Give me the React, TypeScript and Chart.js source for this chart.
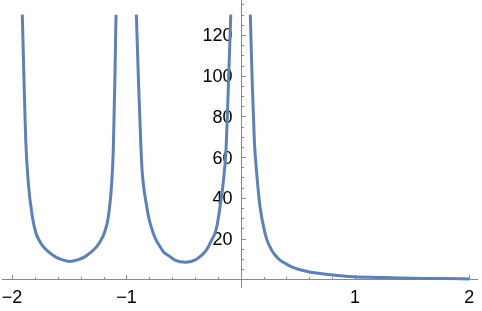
import { useEffect, useRef } from "react";
import { Chart, registerables } from "chart.js";

Chart.register(...registerables);

// Branch between x = -2 and x = -1
const branch1X = [-1.911, -1.897, -1.881, -1.858, -1.823, -1.791, -1.765, -1.727, -1.683, -1.625, -1.566, -1.494, -1.421, -1.362, -1.304, -1.26, -1.222, -1.194, -1.158, -1.129, -1.115, -1.102, -1.091];
const branch1Y = [130, 100, 68.4, 47.1, 30.7, 22.6, 19.3, 16.0, 13.5, 11.1, 9.6, 8.7, 9.6, 11.1, 13.5, 16.0, 19.3, 22.6, 30.7, 47.1, 63.5, 95, 130];

// Branch between x = -1 and x = 0
const branch2X = [-0.913, -0.893, -0.872, -0.861, -0.822, -0.8, -0.765, -0.741, -0.706, -0.677, -0.619, -0.575, -0.487, -0.4, -0.356, -0.312, -0.283, -0.254, -0.225, -0.205, -0.181, -0.152, -0.129, -0.114, -0.087];
const branch2Y = [130, 95, 63.5, 52.0, 35.6, 29.1, 22.6, 19.3, 16.0, 13.5, 11.1, 9.4, 8.3, 9.4, 11.1, 13.5, 16.0, 19.3, 22.6, 27.0, 35.6, 48.0, 63.5, 85, 130];

// Branch for x > 0
const branch3X = [0.084, 0.1, 0.119, 0.14, 0.169, 0.213, 0.23, 0.271, 0.3, 0.344, 0.389, 0.446, 0.504, 0.591, 0.79, 0.985, 1.19, 1.39, 1.6, 1.8, 2.0];
const branch3Y = [130, 98, 68.4, 52.0, 35.6, 22.6, 19.3, 14.3, 11.9, 9.4, 7.8, 6.1, 4.9, 3.7, 2.2, 1.2, 0.9, 0.6, 0.4, 0.3, 0.15];

const xMajorTicks = [-2, -1, 1, 2];
const xTickLabels = ["\u22122", "\u22121", "1", "2"];
const xMinorTicks = [-1.8, -1.6, -1.4, -1.2, -0.8, -0.6, -0.4, -0.2, 0.2, 0.4, 0.6, 0.8, 1.2, 1.4, 1.6, 1.8];

const yMajorTicks = [20, 40, 60, 80, 100, 120];
const yTickLabels = ["20", "40", "60", "80", "100", "120"];
const yMinorTicks = [5, 10, 15, 25, 30, 35, 45, 50, 55, 65, 70, 75, 85, 90, 95, 105, 110, 115, 125, 130, 135];

const X_MIN = -2.106;
const X_MAX = 2.111;
const Y_MIN = -4.32;
const Y_MAX = 137.2;

const LINE_COLOR = "#5E81B5";
const AXIS_COLOR = "#8a8a8a";
const FONT = '18px "Liberation Sans", Arial, sans-serif';

const axesPlugin = {
  id: "mmaAxes",
  beforeDatasetsDraw(chart: any) {
    const { ctx, chartArea } = chart;
    const xs = chart.scales.x;
    const ys = chart.scales.y;
    const x0 = Math.round(xs.getPixelForValue(0)) + 0.5;
    const y0 = Math.round(ys.getPixelForValue(0)) + 0.5;
    ctx.save();
    ctx.strokeStyle = AXIS_COLOR;
    ctx.lineWidth = 1;
    ctx.beginPath();
    ctx.moveTo(chartArea.left + 2, y0);
    ctx.lineTo(chartArea.right - 4, y0);
    ctx.moveTo(x0, chartArea.top);
    ctx.lineTo(x0, chartArea.bottom);
    xMajorTicks.forEach((v) => {
      const px = Math.round(xs.getPixelForValue(v)) + 0.5;
      ctx.moveTo(px, y0);
      ctx.lineTo(px, y0 - 4.5);
    });
    xMinorTicks.forEach((v) => {
      const px = Math.round(xs.getPixelForValue(v)) + 0.5;
      ctx.moveTo(px, y0);
      ctx.lineTo(px, y0 - 2.5);
    });
    yMajorTicks.forEach((v) => {
      const py = Math.round(ys.getPixelForValue(v)) + 0.5;
      ctx.moveTo(x0, py);
      ctx.lineTo(x0 + 4.5, py);
    });
    yMinorTicks.forEach((v) => {
      const py = Math.round(ys.getPixelForValue(v)) + 0.5;
      ctx.moveTo(x0, py);
      ctx.lineTo(x0 + 2.5, py);
    });
    ctx.stroke();

    ctx.fillStyle = "#000";
    ctx.font = FONT;
    ctx.textAlign = "center";
    ctx.textBaseline = "middle";
    xMajorTicks.forEach((v, i) => {
      ctx.fillText(xTickLabels[i], xs.getPixelForValue(v), y0 + 19);
    });
    ctx.textAlign = "right";
    yMajorTicks.forEach((v, i) => {
      ctx.fillText(yTickLabels[i], x0 - 9, ys.getPixelForValue(v) + 1.5);
    });
    ctx.restore();
  },
};

function toPoints(xsArr: number[], ysArr: number[]) {
  return xsArr.map((x, i) => ({ x, y: ysArr[i] }));
}

export default function App() {
  const canvasRef = useRef<HTMLCanvasElement | null>(null);

  useEffect(() => {
    const canvas = canvasRef.current;
    if (!canvas) return;
    const common = {
      borderColor: LINE_COLOR,
      borderWidth: 3,
      pointRadius: 0,
      fill: false,
      cubicInterpolationMode: "monotone" as const,
    };
    const chart = new Chart(canvas, {
      type: "line",
      data: {
        datasets: [
          { ...common, data: toPoints(branch1X, branch1Y) },
          { ...common, data: toPoints(branch2X, branch2Y) },
          { ...common, data: toPoints(branch3X, branch3Y) },
        ],
      },
      options: {
        animation: false,
        responsive: false,
        devicePixelRatio: 1,
        layout: { padding: { left: 0, right: 0, top: 0, bottom: 23 } },
        plugins: { legend: { display: false }, tooltip: { enabled: false } },
        scales: {
          x: { type: "linear", min: X_MIN, max: X_MAX, display: false },
          y: { type: "linear", min: Y_MIN, max: Y_MAX, display: false },
        },
      },
      plugins: [axesPlugin],
    });
    return () => chart.destroy();
  }, []);

  return (
    <div style={{ position: "absolute", left: 0, top: 0, width: 482, height: 311, background: "#fff" }}>
      <canvas ref={canvasRef} width={482} height={311} style={{ width: 482, height: 311, display: "block" }} />
    </div>
  );
}
